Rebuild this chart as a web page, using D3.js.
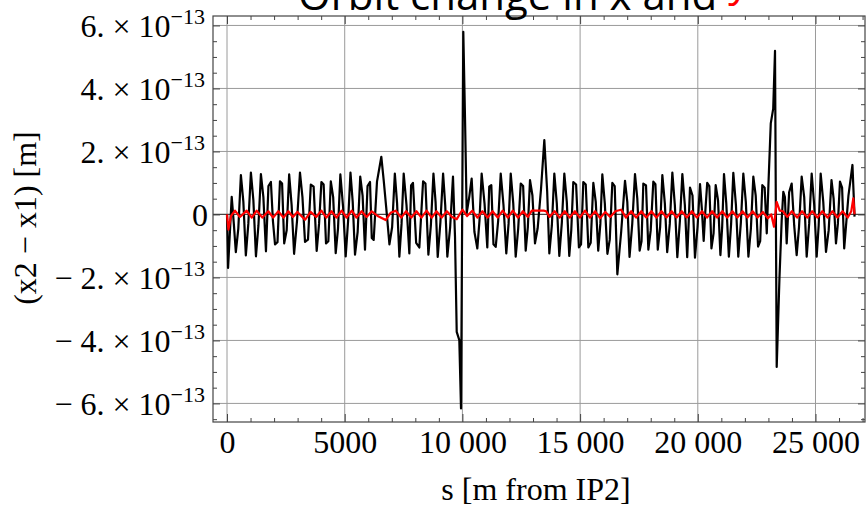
<!DOCTYPE html>
<html>
<head>
<meta charset="utf-8">
<script src="https://cdn.jsdelivr.net/npm/d3@7"></script>
<style>
  body { margin: 0; background: #fff; }
</style>
</head>
<body>
<div id="chart"></div>
<script>
// s [m from IP2] and orbit difference in units of 1e-13 m
const blackSeries = [
  [0,0.00],[45,-1.70],[120,-0.60],[200,0.56],[290,-0.30],[375,-1.20],[480,-0.45],[590,1.25],[695,0.40],[800,-1.30],
  [905,-0.30],[1015,1.33],[1120,0.45],[1230,-1.33],[1335,-0.35],[1440,1.28],[1545,0.55],[1655,-1.17],[1760,0.90],[1865,1.03],
  [1950,-0.20],[2040,-0.95],[2145,-0.88],[2250,1.05],[2340,0.98],[2430,-0.92],[2535,-0.50],[2640,1.27],[2745,0.30],[2850,-1.25],
  [2975,-0.20],[3100,1.33],[3205,0.55],[3314,-0.87],[3440,-0.80],[3560,0.95],[3680,0.88],[3810,-1.16],[3910,-0.30],[4010,1.03],
  [4105,0.95],[4206,-0.92],[4305,-0.85],[4410,1.05],[4510,0.55],[4618,-1.23],[4715,-0.45],[4815,1.27],[4930,0.25],[5042,-1.33],
  [5145,-0.20],[5245,1.33],[5340,0.40],[5438,-1.28],[5550,-0.55],[5660,1.20],[5760,0.60],[5862,-1.12],[5970,0.90],[6075,1.03],
  [6150,-0.75],[6231,-0.81],[6372,1.04],[6556,1.83],[6656,1.09],[6760,0.25],[6900,-0.95],[7015,-0.40],[7130,1.30],[7225,0.35],
  [7322,-1.34],[7415,-0.30],[7506,1.30],[7625,0.30],[7746,-1.24],[7820,0.92],[7900,1.00],[8035,-0.90],[8170,-1.05],[8330,1.05],
  [8430,0.98],[8555,-1.28],[8660,-0.35],[8770,1.30],[8860,0.40],[8951,-1.35],[9065,-0.25],[9180,1.30],[9270,0.30],[9360,-1.34],
  [9480,-0.40],[9600,1.20],[9686,-0.71],[9758,-3.73],[9869,-3.99],[9941,-6.16],[10038,5.80],[10110,3.10],[10183,0.04],[10290,0.55],
  [10393,1.14],[10510,-0.55],[10634,-1.08],[10725,-0.20],[10818,1.30],[10940,0.35],[11058,-1.05],[11140,0.88],[11228,0.93],[11320,-0.95],
  [11415,-1.03],[11520,-0.20],[11628,1.30],[11745,0.30],[11865,-1.24],[11960,-0.30],[12053,1.30],[12160,0.35],[12264,-1.34],[12370,-0.45],
  [12478,0.98],[12580,0.90],[12689,-1.15],[12780,-0.40],[12872,1.09],[12975,0.60],[13084,-0.92],[13197,-0.44],[13339,0.80],[13480,2.36],
  [13600,0.75],[13693,-1.24],[13800,-0.35],[13905,1.30],[14010,0.35],[14117,-1.32],[14225,-0.25],[14330,1.30],[14435,0.40],[14540,-1.32],
  [14625,-0.50],[14711,1.03],[14830,0.95],[14950,-1.05],[15040,-0.95],[15136,1.03],[15240,0.95],[15350,-1.05],[15450,-0.90],[15562,1.00],
  [15665,0.40],[15770,-1.15],[15860,-0.30],[15944,1.27],[16050,0.35],[16160,-1.25],[16260,-0.80],[16369,1.00],[16470,0.90],[16582,-1.90],
  [16745,-0.55],[16907,1.07],[17005,0.40],[17100,-1.35],[17215,-0.30],[17332,1.28],[17430,0.50],[17530,-1.15],[17610,-0.85],[17686,0.98],
  [17800,0.92],[17900,-1.12],[18000,-0.50],[18111,1.04],[18200,0.96],[18300,-1.12],[18400,-0.40],[18494,1.25],[18600,0.35],[18700,-1.20],
  [18810,-0.30],[18919,1.33],[19025,0.30],[19130,-1.36],[19240,-0.20],[19344,1.28],[19450,0.30],[19550,-1.36],[19610,-0.30],[19669,0.85],
  [19775,0.60],[19880,-1.37],[19990,-0.40],[20094,0.96],[20170,0.20],[20250,-0.84],[20320,0.10],[20400,1.00],[20490,0.90],[20580,-1.08],
  [20670,-0.60],[20760,0.93],[20860,0.45],[20960,-1.29],[21035,-0.40],[21113,1.28],[21210,0.35],[21320,-1.34],[21415,-0.30],[21509,1.32],
  [21620,0.30],[21720,-1.34],[21830,-0.25],[21934,1.30],[22040,0.40],[22150,-1.34],[22255,-0.45],[22359,1.20],[22460,0.60],[22560,-1.02],
  [22650,-0.85],[22741,0.93],[22840,0.85],[22930,-0.60],[23000,0.93],[23100,2.89],[23204,3.36],[23280,5.19],[23352,-4.84],[23470,-2.00],
  [23564,-0.18],[23633,0.72],[23700,0.55],[23776,-0.92],[23880,0.70],[23988,0.98],[24095,-0.35],[24200,-1.29],[24300,-0.40],[24413,1.20],
  [24520,0.55],[24626,-1.34],[24730,-0.30],[24838,1.30],[24945,0.30],[25050,-1.34],[25135,-0.35],[25220,1.30],[25330,0.40],[25446,-1.19],
  [25560,-0.50],[25680,1.09],[25770,0.50],[25870,-0.92],[25950,-0.30],[26040,1.04],[26130,0.85],[26220,-1.08],[26400,0.60],[26570,1.57],
  [26659,-0.07]
];

const redSeries = [
  [0,0.00],[60,-0.48],[170,-0.05],[340,0.12],[550,-0.08],[836,0.12],[1050,-0.10],[1261,0.12],[1500,-0.10],[1755,0.10],
  [1960,-0.10],[2180,0.10],[2400,-0.10],[2605,0.10],[2800,-0.08],[2990,0.08],[3314,-0.17],[3550,0.08],[3790,-0.08],[4010,0.12],
  [4220,-0.10],[4440,0.10],[4650,-0.10],[4870,0.12],[5080,-0.10],[5300,0.12],[5500,-0.10],[5720,0.10],[5930,-0.08],[6150,0.10],
  [6400,-0.05],[6740,-0.18],[6950,0.05],[7170,0.12],[7400,-0.10],[7610,0.10],[7830,-0.10],[8050,0.10],[8260,-0.10],[8480,0.12],
  [8700,-0.10],[8900,0.10],[9120,-0.10],[9340,0.10],[9560,-0.08],[9760,-0.15],[10000,0.15],[10200,-0.05],[10420,0.12],[10640,-0.10],
  [10850,0.10],[11070,-0.10],[11280,0.10],[11500,-0.10],[11710,0.12],[11930,-0.10],[12140,0.12],[12360,-0.10],[12570,0.10],[12780,-0.08],
  [12950,0.12],[13200,0.12],[13450,0.12],[13560,0.10],[13700,-0.08],[13920,0.10],[14130,-0.10],[14350,0.10],[14560,-0.10],[14780,0.10],
  [14990,-0.10],[15210,0.12],[15420,-0.10],[15640,0.10],[15850,-0.12],[16070,0.08],[16280,-0.08],[16500,0.10],[16740,0.15],[16950,-0.10],
  [17170,0.10],[17380,-0.10],[17600,0.10],[17810,-0.10],[18030,0.10],[18240,-0.10],[18460,0.10],[18670,-0.10],[18890,0.10],[19100,-0.10],
  [19320,0.10],[19530,-0.10],[19750,0.10],[19960,-0.10],[20180,0.10],[20390,-0.10],[20610,0.10],[20820,-0.10],[21040,0.10],[21250,-0.10],
  [21470,0.10],[21680,-0.10],[21900,0.10],[22110,-0.10],[22330,0.10],[22540,-0.10],[22760,0.08],[22980,-0.12],[23120,0.00],[23237,-0.39],
  [23350,0.40],[23480,0.12],[23620,0.10],[23800,-0.08],[24000,0.10],[24220,-0.10],[24430,0.10],[24650,-0.10],[24860,0.10],[25080,-0.10],
  [25290,0.10],[25510,-0.10],[25720,0.10],[25930,-0.10],[26150,0.10],[26370,-0.10],[26520,0.10],[26606,0.51],[26659,0.00]
];

const xTicks = [0, 5000, 10000, 15000, 20000, 25000];
const xTickLabels = ["0", "5000", "10 000", "15 000", "20 000", "25 000"];
const yTicks = [-6, -4, -2, 0, 2, 4, 6];          // multiples of 1e-13
const yTickMantissa = ["\u2212 6.", "\u2212 4.", "\u2212 2.", "0", "2.", "4.", "6."];
const yExponent = "\u221213";

const serif = "Liberation Serif, Times New Roman, serif";
const W = 867, H = 508;
const plotL = 213, plotR = 865, plotT = 16, plotB = 422;

const svg = d3.select("#chart").append("svg")
  .attr("width", W)
  .attr("height", H)
  .attr("font-family", serif);

const x = d3.scaleLinear().domain([-595, 27103]).range([plotL, plotR]);
const y = d3.scaleLinear().domain([-6.59, 6.30]).range([plotB, plotT]);

const xMinor = d3.range(1000, 27001, 1000).filter(d => d % 5000 !== 0);
const yMinor = d3.range(-6.5, 6.01, 0.5).filter(d => Math.abs(d % 2) > 0.01);

// grid
svg.append("g").selectAll("line").data(xTicks).join("line")
  .attr("x1", d => x(d)).attr("x2", d => x(d))
  .attr("y1", plotT).attr("y2", plotB)
  .attr("stroke", "#9a9a9a").attr("stroke-width", 1);
svg.append("g").selectAll("line").data(yTicks.filter(d => d !== 0)).join("line")
  .attr("x1", plotL).attr("x2", plotR)
  .attr("y1", d => y(d)).attr("y2", d => y(d))
  .attr("stroke", "#9a9a9a").attr("stroke-width", 1);

// zero axis
svg.append("line")
  .attr("x1", plotL).attr("x2", plotR)
  .attr("y1", y(0)).attr("y2", y(0))
  .attr("stroke", "#444").attr("stroke-width", 1.2);

// data
svg.append("clipPath").attr("id", "clip")
  .append("rect").attr("x", plotL).attr("y", plotT)
  .attr("width", plotR - plotL).attr("height", plotB - plotT);

const line = d3.line().x(d => x(d[0])).y(d => y(d[1]));

svg.append("path")
  .datum(blackSeries)
  .attr("clip-path", "url(#clip)")
  .attr("fill", "none")
  .attr("stroke", "#000")
  .attr("stroke-width", 2.2)
  .attr("stroke-linejoin", "round")
  .attr("d", line);

svg.append("path")
  .datum(redSeries)
  .attr("clip-path", "url(#clip)")
  .attr("fill", "none")
  .attr("stroke", "#ff0000")
  .attr("stroke-width", 2.2)
  .attr("stroke-linejoin", "round")
  .attr("d", line);

// frame ticks (inward)
function tickAxis(axis, transform) {
  const g = svg.append("g").attr("transform", transform).call(axis);
  g.select(".domain").remove();
  g.selectAll(".tick line").attr("stroke", "#444");
  return g;
}

const gx = tickAxis(
  d3.axisBottom(x).tickValues(xTicks).tickSizeInner(-8).tickSizeOuter(0)
    .tickPadding(8).tickFormat((d, i) => xTickLabels[i]),
  `translate(0,${plotB})`);
gx.attr("font-family", serif).attr("font-size", 32);
gx.selectAll("text").attr("fill", "#000");
tickAxis(d3.axisBottom(x).tickValues(xMinor).tickSize(-4).tickFormat(""), `translate(0,${plotB})`);
tickAxis(d3.axisTop(x).tickValues(xTicks).tickSize(-8).tickFormat(""), `translate(0,${plotT})`);
tickAxis(d3.axisTop(x).tickValues(xMinor).tickSize(-4).tickFormat(""), `translate(0,${plotT})`);

tickAxis(d3.axisLeft(y).tickValues(yTicks).tickSize(-7).tickFormat(""), `translate(${plotL},0)`);
tickAxis(d3.axisLeft(y).tickValues(yMinor).tickSize(-4).tickFormat(""), `translate(${plotL},0)`);
tickAxis(d3.axisRight(y).tickValues(yTicks).tickSize(-7).tickFormat(""), `translate(${plotR},0)`);
tickAxis(d3.axisRight(y).tickValues(yMinor).tickSize(-4).tickFormat(""), `translate(${plotR},0)`);

// frame
svg.append("rect")
  .attr("x", plotL).attr("y", plotT)
  .attr("width", plotR - plotL).attr("height", plotB - plotT)
  .attr("fill", "none").attr("stroke", "#444").attr("stroke-width", 1.2);

// y tick labels with exponent
yTicks.forEach((v, i) => {
  const t = svg.append("text")
    .attr("x", 205)
    .attr("y", y(v) + 11.5)
    .attr("text-anchor", "end")
    .attr("font-size", "32px");
  if (v === 0) {
    t.attr("x", 208).text(yTickMantissa[i]);
    return;
  }
  t.append("tspan").text(yTickMantissa[i] + " \u00d7 10");
  t.append("tspan").attr("dy", -13).attr("font-size", "22px").text(yExponent);
});

// axis titles
svg.append("text")
  .attr("transform", "translate(36,218) rotate(-90)")
  .attr("text-anchor", "middle")
  .attr("font-size", "32px")
  .text("(x2 \u2212 x1) [m]");

svg.append("text")
  .attr("x", 536).attr("y", 500)
  .attr("text-anchor", "middle")
  .attr("font-size", "32px")
  .text("s [m from IP2]");

// title, cut off at the top edge
const title = svg.append("text")
  .attr("x", 298).attr("y", 10)
  .attr("font-family", "Open Sans, Noto Sans, sans-serif")
  .attr("font-size", "42px")
  .attr("fill", "#000");
title.append("tspan").text("Orbit change in x and ");
title.append("tspan").attr("fill", "#ff0000").attr("dy", -14).text("y");
</script>
</body>
</html>
